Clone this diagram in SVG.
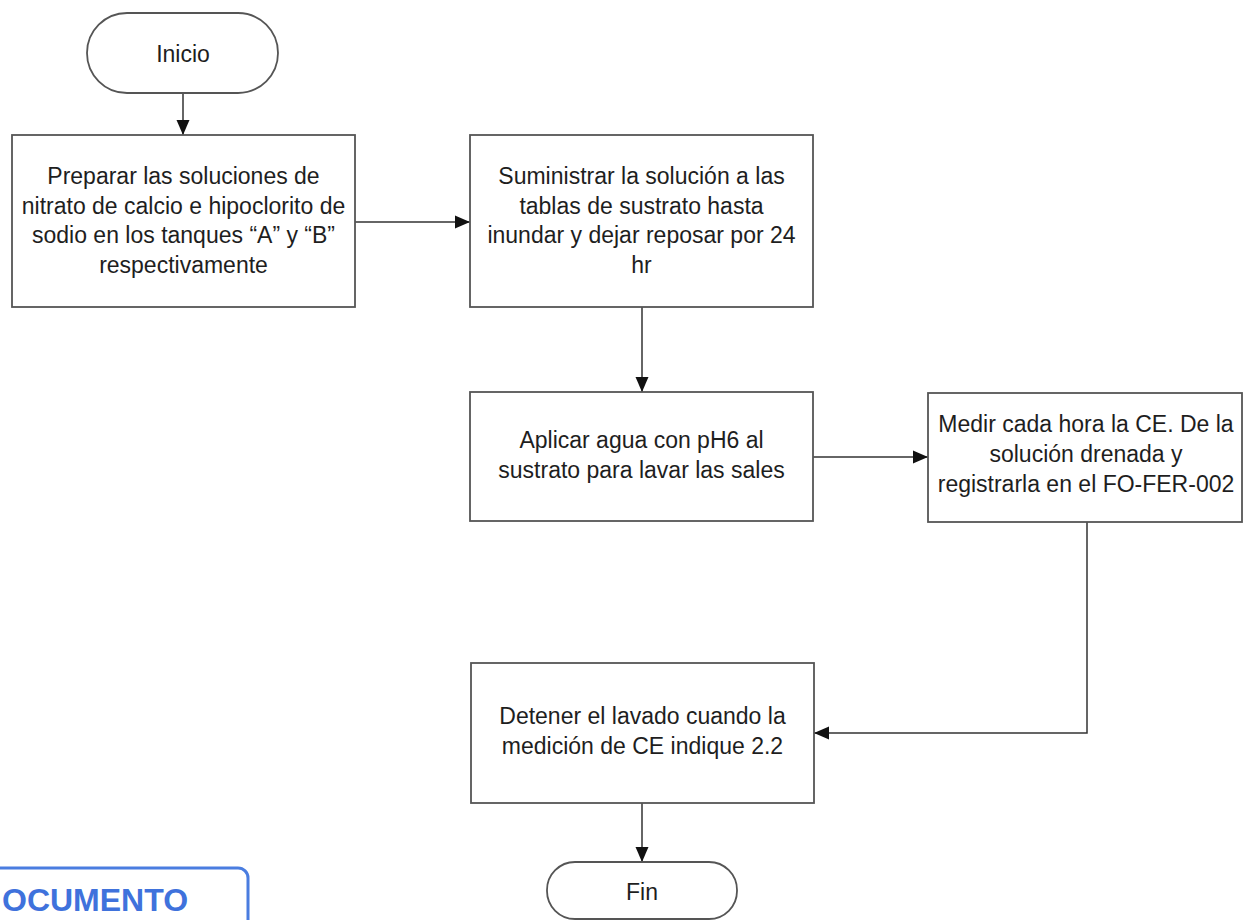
<svg xmlns="http://www.w3.org/2000/svg" width="1243" height="920" viewBox="0 0 1243 920">
<style>
.box{fill:#ffffff;stroke:#555555;stroke-width:1.8}
.t{font-family:"Liberation Sans",Arial,sans-serif;font-size:23px;fill:#1e1e1e;text-anchor:middle}
.c{fill:none;stroke:#333333;stroke-width:1.5}
</style>
<defs>
<marker id="ah" markerUnits="userSpaceOnUse" markerWidth="16" markerHeight="14" refX="15" refY="7" orient="auto">
<path d="M0,0.5 L15,7 L0,13.5 z" fill="#111111"/>
</marker>
</defs>
<rect width="1243" height="920" fill="#ffffff"/>
<g id="connectors">
<path class="c" d="M183,93 L183,135" marker-end="url(#ah)"/>
<path class="c" d="M355,222 L470,222" marker-end="url(#ah)"/>
<path class="c" d="M642,307 L642,392" marker-end="url(#ah)"/>
<path class="c" d="M813,457 L928,457" marker-end="url(#ah)"/>
<path class="c" d="M1087,522 L1087,733 L814,733" marker-end="url(#ah)"/>
<path class="c" d="M642,803 L642,862" marker-end="url(#ah)"/>
</g>
<g id="inicio">
<rect class="box" x="87" y="13" width="191" height="80" rx="40" ry="40"/>
<text class="t" x="183" y="62">Inicio</text>
</g>
<g id="preparar">
<rect class="box" x="12" y="135" width="343" height="172"/>
<text class="t" x="183.5" y="184">Preparar las soluciones de</text>
<text class="t" x="183.5" y="214">nitrato de calcio e hipoclorito de</text>
<text class="t" x="183.5" y="243">sodio en los tanques “A” y “B”</text>
<text class="t" x="183.5" y="273">respectivamente</text>
</g>
<g id="suministrar">
<rect class="box" x="470" y="135" width="343" height="172"/>
<text class="t" x="641.5" y="184">Suministrar la solución a las</text>
<text class="t" x="641.5" y="214">tablas de sustrato hasta</text>
<text class="t" x="641.5" y="243">inundar y dejar reposar por 24</text>
<text class="t" x="641.5" y="273">hr</text>
</g>
<g id="aplicar">
<rect class="box" x="470" y="392" width="343" height="129"/>
<text class="t" x="641.5" y="448">Aplicar agua con pH6 al</text>
<text class="t" x="641.5" y="478">sustrato para lavar las sales</text>
</g>
<g id="medir">
<rect class="box" x="928" y="393" width="314" height="129"/>
<text class="t" x="1086" y="432">Medir cada hora la CE. De la</text>
<text class="t" x="1086" y="462">solución drenada y</text>
<text class="t" x="1086" y="492">registrarla en el FO-FER-002</text>
</g>
<g id="detener">
<rect class="box" x="471" y="663" width="343" height="140"/>
<text class="t" x="642.5" y="724">Detener el lavado cuando la</text>
<text class="t" x="642.5" y="754">medición de CE indique 2.2</text>
</g>
<g id="fin">
<rect class="box" x="547" y="862" width="190" height="57" rx="28" ry="28"/>
<text class="t" x="642" y="900">Fin</text>
</g>
<g id="stamp">
<rect x="-20" y="868" width="268" height="80" rx="10" ry="10" fill="none" stroke="#4a7de0" stroke-width="3"/>
<text x="2" y="911" font-family="'Liberation Sans',Arial,sans-serif" font-size="32" font-weight="bold" fill="#3f72dc">OCUMENTO</text>
</g>
</svg>
